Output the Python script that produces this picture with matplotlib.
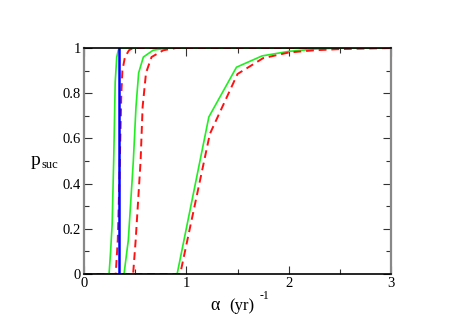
import numpy as np
import matplotlib
matplotlib.use("Agg")
from matplotlib import pyplot as plt

# success probability vs alpha
a_g1 = [0.0, 0.245, 0.26, 0.275, 0.29, 0.305, 0.32, 0.335, 0.35, 0.5, 1.0, 3.0]
p_g1 = [0.0, 0.0, 0.1, 0.22, 0.5, 0.85, 0.96, 0.99, 1.0, 1.0, 1.0, 1.0]

a_r1 = [0.0, 0.31, 0.33, 0.345, 0.355, 0.365, 0.375, 0.40, 0.44, 0.48, 1.0, 3.0]
p_r1 = [0.0, 0.0, 0.15, 0.4, 0.6, 0.8, 0.9, 0.96, 0.99, 1.0, 1.0, 1.0]

a_b = [0.342, 0.342]
p_b = [0.0, 1.0]

a_g2 = [0.0, 0.391, 0.433, 0.482, 0.508, 0.534, 0.58, 0.675, 0.81, 1.0, 3.0]
p_g2 = [0.0, 0.0, 0.15, 0.5, 0.74, 0.89, 0.96, 0.99, 1.0, 1.0, 1.0]

a_r2 = [0.0, 0.48, 0.505, 0.553, 0.573, 0.606, 0.66, 0.775, 0.9, 1.0, 3.0]
p_r2 = [0.0, 0.0, 0.15, 0.5, 0.74, 0.89, 0.96, 0.99, 1.0, 1.0, 1.0]

a_g3 = [0.0, 0.91, 1.22, 1.49, 1.74, 2.0, 2.25, 2.5, 3.0]
p_g3 = [0.0, 0.0, 0.695, 0.915, 0.965, 0.985, 0.995, 1.0, 1.0]

a_r3 = [0.0, 0.94, 1.23, 1.50, 1.75, 2.0, 2.25, 2.5, 3.0]
p_r3 = [0.0, 0.0, 0.62, 0.885, 0.955, 0.98, 0.99, 0.995, 1.0]

plt.rcParams['font.family'] = ['Liberation Serif', 'DejaVu Serif']

fig = plt.figure(figsize=(4.57, 3.23), dpi=100)
ax = fig.add_axes([84/457, 1-274/323, 307/457, 226/323])

grn = '#22ee22'
red = '#ff1111'
ax.plot(a_g1, p_g1, color=grn, lw=1.2)
ax.plot(a_r1, p_r1, color=red, lw=1.4, ls=(0, (4, 2.5)))
ax.plot(a_g2, p_g2, color=grn, lw=1.2)
ax.plot(a_r2, p_r2, color=red, lw=1.4, ls=(0, (4, 2.5)))
ax.plot(a_g3, p_g3, color=grn, lw=1.2)
ax.plot(a_r3, p_r3, color=red, lw=1.4, ls=(0, (4, 2.5)))
ax.plot(a_b, p_b, color='#0000ff', lw=1.8)

ax.set_xlim(0, 3)
ax.set_ylim(0, 1)
ax.set_xticks([0, 1, 2, 3])
ax.set_xticks([0.5, 1.5, 2.5], minor=True)
ax.set_yticks([0, 0.2, 0.4, 0.6, 0.8, 1.0])
ax.set_yticklabels(['0', '0.2', '0.4', '0.6', '0.8', '1'])
ax.set_yticks([0.1, 0.3, 0.5, 0.7, 0.9], minor=True)
ax.tick_params(which='both', direction='in', top=True, right=True,
               labelsize=10.5, width=0.8, colors='#333333', labelcolor='black', pad=2)
ax.tick_params(which='major', length=6)
ax.tick_params(which='minor', length=3.5)

for s in ['left', 'right']:
    ax.spines[s].set_color('#888888')
    ax.spines[s].set_linewidth(1.6)
for s in ['top', 'bottom']:
    ax.spines[s].set_color('black')
    ax.spines[s].set_linewidth(1.2)

fig.text(31/457, 1-165/323, 'p', fontsize=14, va='baseline')
fig.text(42/457, 1-168/323, 'suc', fontsize=9, va='baseline')
fig.text(210/457, 1-310/323, 'α', fontsize=13, va='baseline')
fig.text(229/457, 1-310/323, '(yr)', fontsize=12, va='baseline')
fig.text(260/457, 1-299/323, '-1', fontsize=8.5, va='baseline')

fig.savefig('out.png', dpi=100)
